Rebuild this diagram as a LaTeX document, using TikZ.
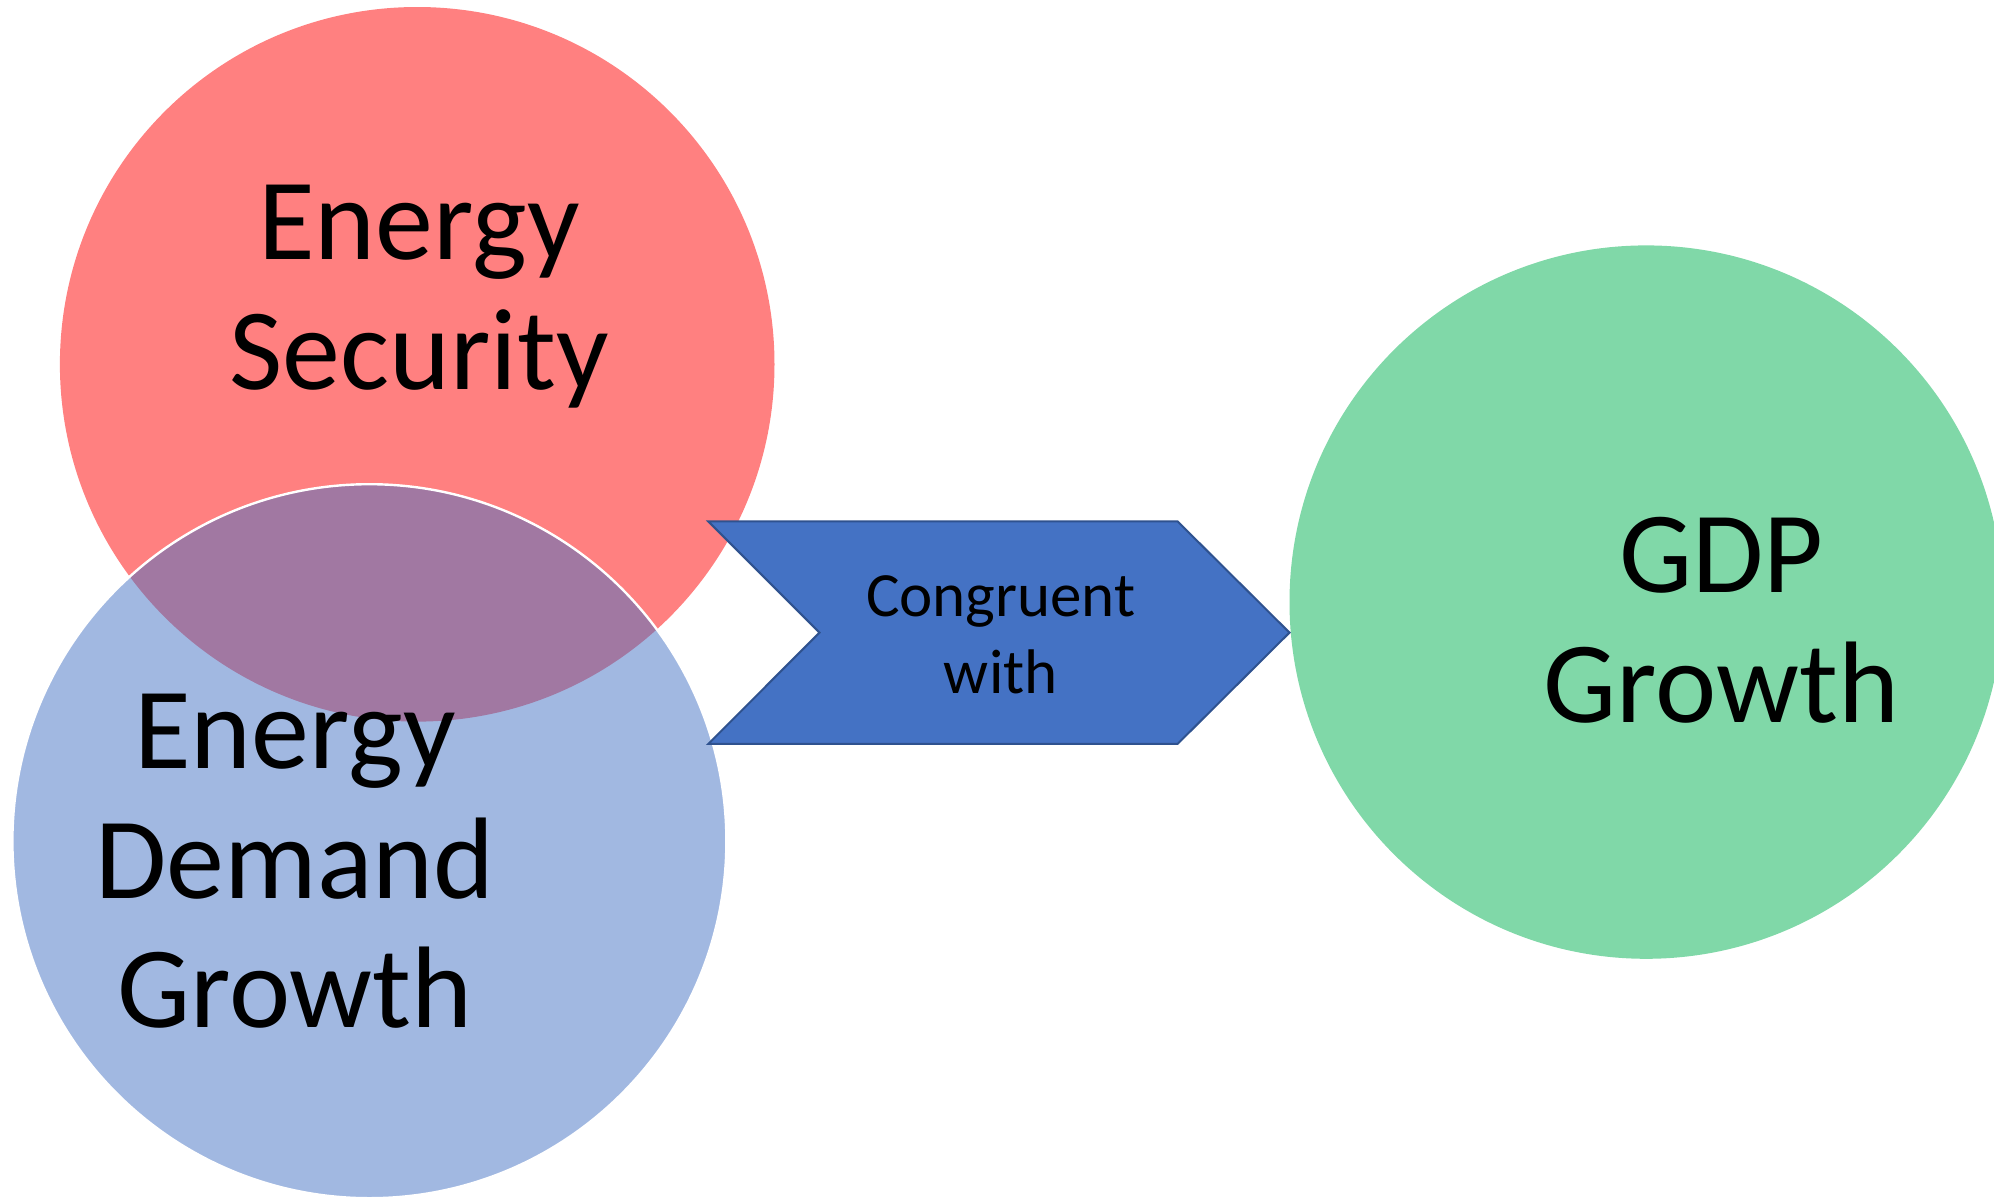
\documentclass[tikz,border=0pt]{standalone}
\usepackage{fontspec}
\setmainfont{Carlito}
\definecolor{redfill}{HTML}{FF8080}
\definecolor{bluefill}{HTML}{4472C4}
\definecolor{greenfill}{HTML}{80D8A8}
\definecolor{chevfill}{HTML}{4472C4}
\definecolor{chevline}{HTML}{2F528F}
\begin{document}
\begin{tikzpicture}[x=0.5pt,y=-0.5pt,
  bigtext/.style={align=center,inner sep=0pt,anchor=base,font=\fontsize{58}{64.75}\selectfont},
  smalltext/.style={align=center,inner sep=0pt,anchor=base,font=\fontsize{31.5}{38.3}\selectfont},
  chevshape/.style={fill=chevfill,draw=chevline,line width=1pt,line join=miter}]
\useasboundingbox (0,0) rectangle (1994,1200);
\clip (0,0) rectangle (1994,1200);
% circles
\fill[redfill] (417.2,364.3) circle[radius=357.3];
\fill[greenfill] (1646.2,602.1) circle[radius=356.7];
\path[fill=bluefill,fill opacity=0.5,draw=white,line width=1.2pt] (369.4,841.2) circle[radius=357];
% chevron
\coordinate (c1) at (708.3,521.4);
\coordinate (c2) at (1177.6,521.4);
\coordinate (c3) at (1289.5,632.6);
\coordinate (c4) at (1177.6,743.9);
\coordinate (c5) at (708.3,743.9);
\coordinate (c6) at (819.5,632.6);
\draw[chevshape] (c1) -- (c2) -- (c3) -- (c4) -- (c5) -- (c6) -- cycle;
% texts
\node[bigtext] (sec) at (419,389) {Energy\\Security};
\node[bigtext] (dem) at (295,1027.5) {Energy\\Demand\\Growth};
\node[bigtext] (gdp) at (1721.5,722.3) {GDP\\Growth};
\node[smalltext] (cong) at (1000.8,693.3) {Congruent\\with};
\end{tikzpicture}
\end{document}
